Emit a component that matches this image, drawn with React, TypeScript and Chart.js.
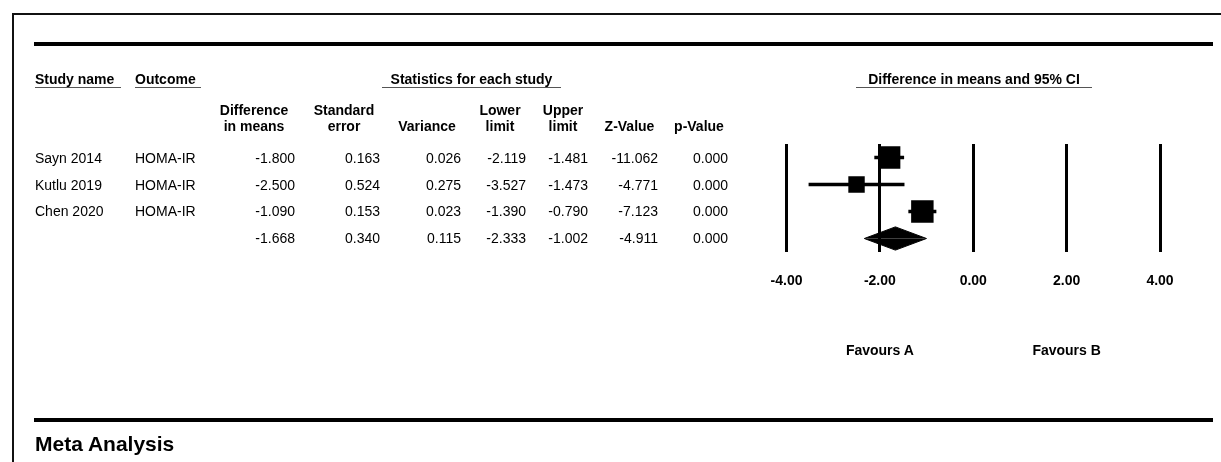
import React, { useEffect, useRef } from "react";
import { Chart, registerables } from "chart.js";

Chart.register(...registerables);

// ---------- data ----------
const studyNames = ["Sayn 2014", "Kutlu 2019", "Chen 2020", ""];
const outcomes = ["HOMA-IR", "HOMA-IR", "HOMA-IR", ""];
const diffInMeans = [-1.8, -2.5, -1.09, -1.668];
const standardError = [0.163, 0.524, 0.153, 0.34];
const variance = [0.026, 0.275, 0.023, 0.115];
const lowerLimit = [-2.119, -3.527, -1.39, -2.333];
const upperLimit = [-1.481, -1.473, -0.79, -1.002];
const zValue = [-11.062, -4.771, -7.123, -4.911];
const pValue = [0.0, 0.0, 0.0, 0.0];
// relative weights (%)
const relativeWeight = [38.3, 20.8, 38.9];
const xTickValues = [-4, -2, 0, 2, 4];
const favourLabels = ["Favours A", "Favours B"];
const favourPositions = [-2, 2];
const columnHeaders = [
  ["Difference", "in means"],
  ["Standard", "error"],
  ["", "Variance"],
  ["Lower", "limit"],
  ["Upper", "limit"],
  ["", "Z-Value"],
  ["", "p-Value"],
];

// ---------- layout / style ----------
const W = 1221;
const H = 462;
const FONT = 'Arial, "Liberation Sans", sans-serif';
const PLOT_LEFT = 786.5;
const PLOT_RIGHT = 1160;
const PLOT_TOP = 144;
const PLOT_BOTTOM = 252;
const TICK_SIZE = 14;
const TICK_PAD = 21;
const X_MIN = -4;
const X_MAX = 4;
const MARKER_K = 3.6; // square side = K * sqrt(weight)
const DIAMOND_HALF = 0.43; // in row units
const numRight = [295, 380, 461, 526, 588, 658, 728];
const headCenter = [254, 344, 427, 500, 563, 629.5, 699];
const ROW_BASE0 = 163.3;
const ROW_STEP = 26.67;

const px = (v: number) => PLOT_LEFT + ((v - X_MIN) / (X_MAX - X_MIN)) * (PLOT_RIGHT - PLOT_LEFT);

type TProps = {
  x: number;
  baseline: number;
  align?: "left" | "center" | "right";
  bold?: boolean;
  size?: number;
  children: React.ReactNode;
};

function T({ x, baseline, align = "left", bold = false, size = 14, children }: TProps) {
  const top = baseline - 0.9465 * size;
  const style: React.CSSProperties = {
    position: "absolute",
    top,
    fontSize: size,
    lineHeight: `${size * 1.2}px`,
    fontWeight: bold ? "bold" : "normal",
    whiteSpace: "nowrap",
    fontFamily: FONT,
    color: "#000",
  };
  if (align === "left") {
    style.left = x;
  } else if (align === "center") {
    style.left = x - 200;
    style.width = 400;
    style.textAlign = "center";
  } else {
    style.left = x - 300;
    style.width = 300;
    style.textAlign = "right";
  }
  return <div style={style}>{children}</div>;
}

function HLine({ x1, x2, y, h, color = "#000" }: { x1: number; x2: number; y: number; h: number; color?: string }) {
  return <div style={{ position: "absolute", left: x1, top: y, width: x2 - x1, height: h, background: color }} />;
}

export default function App() {
  const canvasRef = useRef<HTMLCanvasElement | null>(null);

  useEffect(() => {
    if (!canvasRef.current) return;
    const n = relativeWeight.length;
    const s = n; // summary row index
    const radii = relativeWeight.map((w) => (MARKER_K * Math.sqrt(w)) / Math.SQRT2);
    const squares = {
      type: "scatter" as const,
      data: diffInMeans.slice(0, n).map((v, i) => ({ x: v, y: i })),
      pointStyle: "rect",
      pointRadius: radii,
      pointHoverRadius: radii,
      backgroundColor: "#000",
      borderWidth: 0,
      pointBorderWidth: 0,
    };
    const whiskers = lowerLimit.slice(0, n).map((lo, i) => ({
      type: "line" as const,
      data: [
        { x: lo, y: i },
        { x: upperLimit[i], y: i },
      ],
      borderColor: "#000",
      borderWidth: 3.5,
      pointRadius: 0,
      pointHoverRadius: 0,
      fill: false,
      tension: 0,
    }));
    const diamondHalf = (sign: number) => ({
      type: "line" as const,
      data: [
        { x: lowerLimit[s], y: s },
        { x: diffInMeans[s], y: s + sign * DIAMOND_HALF },
        { x: upperLimit[s], y: s },
      ],
      borderColor: "#000",
      backgroundColor: "#000",
      borderWidth: 1,
      pointRadius: 0,
      pointHoverRadius: 0,
      fill: { value: s },
      tension: 0,
    });

    const chart = new Chart(canvasRef.current, {
      type: "scatter",
      data: {
        datasets: [squares as any, ...whiskers, diamondHalf(-1), diamondHalf(1)],
      },
      options: {
        animation: false,
        responsive: false,
        maintainAspectRatio: false,
        devicePixelRatio: 1,
        events: [],
        layout: {
          padding: {
            left: PLOT_LEFT,
            right: W - PLOT_RIGHT,
            top: PLOT_TOP,
            bottom: H - PLOT_BOTTOM - (TICK_SIZE * 1.2 + 2 * TICK_PAD),
          },
        },
        plugins: {
          legend: { display: false },
          tooltip: { enabled: false },
          title: { display: false },
        },
        scales: {
          x: {
            type: "linear",
            min: X_MIN,
            max: X_MAX,
            afterBuildTicks: (scale: any) => {
              scale.ticks = xTickValues.map((v) => ({ value: v }));
            },
            ticks: {
              callback: (v: any) => Number(v).toFixed(2),
              font: { family: FONT, size: TICK_SIZE, weight: "bold" },
              color: "#000",
              padding: TICK_PAD,
              maxRotation: 0,
              autoSkip: false,
            },
            grid: { color: "#000", lineWidth: 3, drawTicks: false },
            border: { display: false },
          },
          y: {
            type: "linear",
            min: -0.5,
            max: 3.5,
            reverse: true,
            display: false,
          },
        },
      } as any,
    });
    return () => chart.destroy();
  }, []);

  const f3 = (v: number) => v.toFixed(3);
  const numCols = [diffInMeans, standardError, variance, lowerLimit, upperLimit, zValue, pValue];

  return (
    <div
      style={{
        position: "absolute",
        left: 0,
        top: 0,
        width: W,
        height: H,
        overflow: "hidden",
        background: "#fff",
        fontFamily: FONT,
      }}
    >
      {/* frame */}
      <HLine x1={12} x2={W} y={13} h={2} color="#111" />
      <div style={{ position: "absolute", left: 12, top: 13, width: 2, height: H, background: "#111" }} />
      <HLine x1={34} x2={1213} y={42} h={4} />
      <HLine x1={34} x2={1213} y={418} h={4} />

      <canvas
        ref={canvasRef}
        width={W}
        height={H}
        style={{ position: "absolute", left: 0, top: 0, width: W, height: H }}
      />

      {/* group headers */}
      <T x={35} baseline={84.5} bold>Study name</T>
      <HLine x1={35} x2={121} y={87} h={1} color="#555" />
      <T x={135} baseline={84.5} bold>Outcome</T>
      <HLine x1={135} x2={201} y={87} h={1} color="#555" />
      <T x={471.5} baseline={84.5} align="center" bold>Statistics for each study</T>
      <HLine x1={382} x2={561} y={87} h={1} color="#555" />
      <T x={974} baseline={84.5} align="center" bold>Difference in means and 95% CI</T>
      <HLine x1={856} x2={1092} y={87} h={1} color="#555" />

      {/* column headers */}
      {columnHeaders.map((lines, c) => (
        <React.Fragment key={"h" + c}>
          {lines[0] ? (
            <T x={headCenter[c]} baseline={115} align="center" bold>
              {lines[0]}
            </T>
          ) : null}
          <T x={headCenter[c]} baseline={131.7} align="center" bold>
            {lines[1]}
          </T>
        </React.Fragment>
      ))}

      {/* rows */}
      {studyNames.map((name, i) => {
        const b = ROW_BASE0 + i * ROW_STEP;
        return (
          <React.Fragment key={"r" + i}>
            {name ? <T x={35} baseline={b}>{name}</T> : null}
            {outcomes[i] ? <T x={135} baseline={b}>{outcomes[i]}</T> : null}
            {numCols.map((col, c) => (
              <T key={"c" + c} x={numRight[c]} baseline={b} align="right">
                {f3(col[i])}
              </T>
            ))}
          </React.Fragment>
        );
      })}

      {/* favours labels */}
      {favourLabels.map((lab, i) => (
        <T key={"f" + i} x={px(favourPositions[i])} baseline={355.7} align="center" bold>
          {lab}
        </T>
      ))}

      <T x={35} baseline={451} bold size={21}>Meta Analysis</T>
    </div>
  );
}
